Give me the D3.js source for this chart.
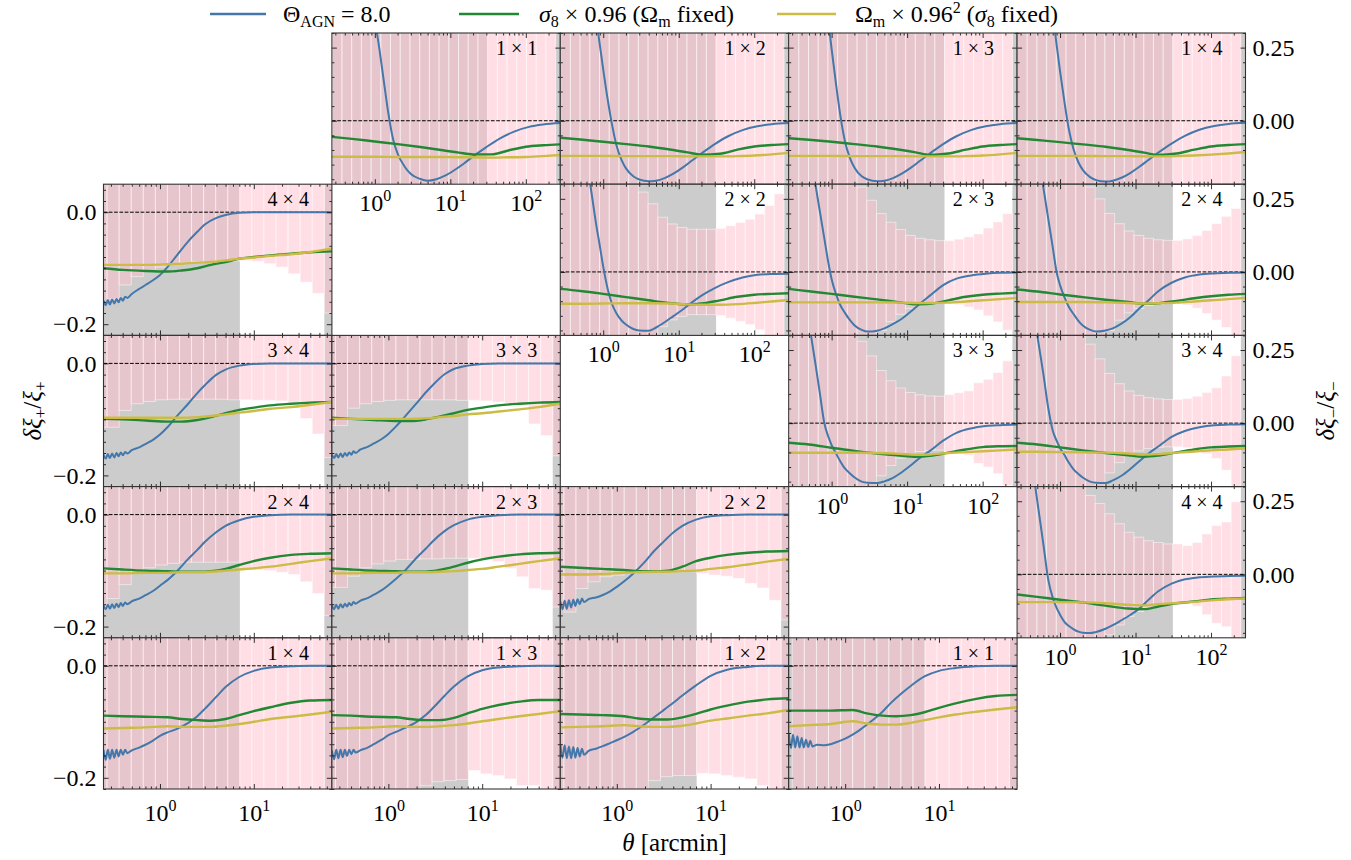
<!DOCTYPE html>
<html>
<head>
<meta charset="utf-8">
<script src="https://cdn.jsdelivr.net/npm/d3@7"></script>
<style>
body { margin: 0; background: #fff; }
text, tspan { font-family: "Liberation Serif", "DejaVu Serif", "Noto Serif", serif !important; }
</style>
</head>
<body>
<div id="chart"></div>
<script>

// ---- data ----

// angular bins of the covariance bars [arcmin]
var binEdges = [0.203, 0.273, 0.367, 0.494, 0.664, 0.893, 1.200, 1.614, 2.171, 2.919, 3.926, 5.280, 7.100,
    9.548, 12.84, 17.27, 23.22, 31.23, 42.00, 56.48, 75.96, 102.1, 137.4, 184.7, 248.4, 334.1];

// scale cuts (everything outside is greyed out)
var plusCuts = [7.1, 56.48];
var minusCuts = [31.23, 248.4];

var plusLabels = ['4 × 4', '3 × 4', '3 × 3', '2 × 4', '2 × 3', '2 × 2', '1 × 4', '1 × 3', '1 × 2', '1 × 1'];
var minusLabels = ['1 × 1', '1 × 2', '1 × 3', '1 × 4', '2 × 2', '2 × 3', '2 × 4', '3 × 3', '3 × 4', '4 × 4'];

// theta samples of the curves
var plusTheta = [0.25, 0.264, 0.278, 0.293, 0.309, 0.326, 0.344, 0.362, 0.382, 0.403, 0.425, 0.448, 0.5, 0.6, 0.7,
    0.85, 1.0, 1.2, 1.5, 2.0, 2.5, 3.0, 4.0, 5.0, 7.0, 10, 15, 25, 40, 68];
var plusSmoothTheta = [0.25, 0.4, 0.7, 1.2, 1.7, 2.5, 3.5, 5, 7, 10, 15, 25, 40, 68];
var minusTheta = [0.27, 0.4, 0.5, 0.6, 0.7, 0.8, 0.9, 1.0, 1.15, 1.3, 1.5, 1.75, 2.0, 2.5, 3.0, 4.0, 5.0, 6.5,
    8.5, 11, 15, 20, 30, 45, 70, 110, 170, 286];
var minusSmoothTheta = [0.27, 0.5, 1, 2, 4, 8, 13, 20, 35, 60, 100, 170, 286];

// delta xi+ / xi+ , Theta_AGN = 8.0
var plusAgn = [
    [-0.158, -0.166, -0.157, -0.165, -0.156, -0.163, -0.155, -0.161, -0.153, -0.158, -0.151, -0.153, -0.146, -0.137, -0.130, -0.121, -0.112, -0.098, -0.078, -0.052, -0.035, -0.022, -0.010, -0.005, -0.001, 0, 0, 0, 0, 0],
    [-0.163, -0.170, -0.162, -0.169, -0.161, -0.168, -0.160, -0.166, -0.159, -0.164, -0.158, -0.161, -0.155, -0.150, -0.144, -0.136, -0.127, -0.114, -0.095, -0.072, -0.053, -0.039, -0.020, -0.011, -0.004, -0.001, 0, 0, 0, 0],
    [-0.163, -0.169, -0.162, -0.168, -0.161, -0.167, -0.160, -0.165, -0.159, -0.163, -0.157, -0.160, -0.154, -0.149, -0.143, -0.135, -0.126, -0.113, -0.095, -0.071, -0.052, -0.038, -0.019, -0.010, -0.004, -0.001, 0, 0, 0, 0],
    [-0.162, -0.169, -0.161, -0.168, -0.160, -0.167, -0.159, -0.165, -0.158, -0.163, -0.157, -0.160, -0.155, -0.150, -0.144, -0.136, -0.127, -0.117, -0.102, -0.079, -0.063, -0.049, -0.031, -0.020, -0.010, -0.004, -0.001, 0, 0, 0],
    [-0.162, -0.169, -0.161, -0.168, -0.160, -0.166, -0.159, -0.164, -0.158, -0.162, -0.156, -0.159, -0.154, -0.149, -0.143, -0.135, -0.126, -0.115, -0.100, -0.077, -0.061, -0.047, -0.029, -0.019, -0.009, -0.004, -0.001, 0, 0, 0],
    [-0.155, -0.169, -0.154, -0.168, -0.153, -0.166, -0.152, -0.163, -0.151, -0.160, -0.150, -0.156, -0.151, -0.148, -0.144, -0.137, -0.129, -0.119, -0.105, -0.084, -0.065, -0.052, -0.032, -0.020, -0.009, -0.003, -0.001, 0, 0, 0],
    [-0.150, -0.168, -0.150, -0.166, -0.150, -0.164, -0.150, -0.162, -0.150, -0.159, -0.150, -0.156, -0.151, -0.146, -0.141, -0.133, -0.125, -0.119, -0.113, -0.102, -0.090, -0.077, -0.055, -0.038, -0.020, -0.009, -0.003, -0.001, 0, 0],
    [-0.151, -0.167, -0.150, -0.165, -0.150, -0.163, -0.150, -0.161, -0.150, -0.158, -0.150, -0.155, -0.151, -0.146, -0.140, -0.132, -0.124, -0.118, -0.111, -0.100, -0.088, -0.075, -0.053, -0.037, -0.019, -0.008, -0.003, -0.001, 0, 0],
    [-0.140, -0.164, -0.142, -0.165, -0.144, -0.165, -0.145, -0.164, -0.147, -0.162, -0.148, -0.159, -0.152, -0.148, -0.144, -0.138, -0.133, -0.127, -0.118, -0.104, -0.092, -0.082, -0.066, -0.053, -0.035, -0.018, -0.007, -0.002, 0, 0],
    [-0.120, -0.147, -0.123, -0.146, -0.126, -0.146, -0.129, -0.146, -0.132, -0.145, -0.134, -0.144, -0.141, -0.142, -0.140, -0.135, -0.130, -0.123, -0.112, -0.096, -0.082, -0.068, -0.049, -0.036, -0.019, -0.009, -0.004, -0.001, 0, 0]
];

// delta xi+ / xi+ , sigma8 x 0.96 (Omega_m fixed)
var plusSigma8 = [
    [-0.100, -0.103, -0.105, -0.106, -0.104, -0.100, -0.094, -0.089, -0.083, -0.080, -0.077, -0.074, -0.0715, -0.070],
    [-0.099, -0.100, -0.102, -0.104, -0.104, -0.101, -0.096, -0.089, -0.083, -0.079, -0.075, -0.072, -0.070, -0.069],
    [-0.097, -0.099, -0.101, -0.103, -0.103, -0.100, -0.095, -0.089, -0.083, -0.079, -0.075, -0.072, -0.070, -0.069],
    [-0.096, -0.098, -0.100, -0.101, -0.102, -0.102, -0.101, -0.097, -0.090, -0.083, -0.077, -0.072, -0.070, -0.069],
    [-0.096, -0.098, -0.100, -0.101, -0.102, -0.102, -0.099, -0.093, -0.086, -0.080, -0.075, -0.071, -0.069, -0.068],
    [-0.093, -0.095, -0.097, -0.099, -0.101, -0.101, -0.100, -0.093, -0.083, -0.077, -0.072, -0.068, -0.066, -0.065],
    [-0.089, -0.090, -0.091, -0.092, -0.095, -0.097, -0.098, -0.095, -0.088, -0.081, -0.074, -0.066, -0.062, -0.061],
    [-0.088, -0.089, -0.091, -0.092, -0.095, -0.097, -0.097, -0.093, -0.085, -0.077, -0.070, -0.064, -0.061, -0.061],
    [-0.086, -0.087, -0.088, -0.090, -0.094, -0.096, -0.096, -0.092, -0.086, -0.078, -0.071, -0.064, -0.060, -0.058],
    [-0.080, -0.080, -0.080, -0.079, -0.085, -0.089, -0.090, -0.088, -0.083, -0.075, -0.067, -0.059, -0.054, -0.052]
];

// delta xi+ / xi+ , Omega_m x 0.96^2 (sigma8 fixed)
var plusOmegaM = [
    [-0.094, -0.094, -0.094, -0.093, -0.092, -0.090, -0.089, -0.086, -0.083, -0.081, -0.078, -0.075, -0.071, -0.065],
    [-0.097, -0.097, -0.097, -0.097, -0.097, -0.096, -0.094, -0.091, -0.088, -0.085, -0.081, -0.078, -0.074, -0.069],
    [-0.099, -0.099, -0.099, -0.099, -0.099, -0.098, -0.096, -0.094, -0.091, -0.089, -0.086, -0.082, -0.078, -0.072],
    [-0.105, -0.105, -0.104, -0.104, -0.103, -0.103, -0.102, -0.100, -0.098, -0.096, -0.093, -0.088, -0.083, -0.078],
    [-0.105, -0.105, -0.104, -0.104, -0.103, -0.103, -0.102, -0.101, -0.099, -0.097, -0.093, -0.088, -0.083, -0.078],
    [-0.107, -0.107, -0.106, -0.104, -0.103, -0.102, -0.102, -0.101, -0.100, -0.097, -0.094, -0.089, -0.084, -0.079],
    [-0.112, -0.111, -0.110, -0.108, -0.109, -0.109, -0.109, -0.107, -0.104, -0.100, -0.095, -0.091, -0.087, -0.082],
    [-0.112, -0.111, -0.110, -0.108, -0.109, -0.109, -0.108, -0.106, -0.103, -0.099, -0.095, -0.090, -0.086, -0.081],
    [-0.110, -0.109, -0.108, -0.106, -0.108, -0.109, -0.109, -0.107, -0.103, -0.098, -0.094, -0.089, -0.085, -0.079],
    [-0.108, -0.106, -0.104, -0.099, -0.103, -0.105, -0.105, -0.102, -0.097, -0.092, -0.087, -0.082, -0.078, -0.074]
];

// 1 sigma of xi+ per bin (relative), null = no bar
var plusSigma = [
    [0.160, 0.155, 0.130, 0.115, 0.106, 0.098, 0.094, 0.090, 0.088, 0.088, 0.087, 0.087, 0.0865, 0.088, 0.092, 0.098, 0.110, 0.125, 0.145, 0.180],
    [0.114, 0.114, 0.084, 0.072, 0.068, 0.065, 0.064, 0.064, 0.064, 0.064, 0.064, 0.065, 0.065, 0.066, 0.066, 0.067, 0.070, 0.0985, 0.126, 0.168],
    [0.111, 0.111, 0.080, 0.072, 0.068, 0.066, 0.065, 0.065, 0.065, 0.065, 0.065, 0.066, 0.066, 0.067, 0.069, 0.071, 0.075, 0.108, 0.129, 0.165],
    [0.165, 0.150, 0.125, 0.105, 0.095, 0.090, 0.087, 0.085, 0.085, 0.085, 0.085, 0.085, 0.099, 0.099, 0.100, 0.103, 0.107, 0.120, 0.141, 0.180],
    [0.130, 0.130, 0.110, 0.095, 0.088, 0.083, 0.080, 0.080, 0.079, 0.079, 0.078, 0.078, 0.078, 0.081, 0.084, 0.096, 0.111, 0.132, 0.135, 0.165],
    [0.162, 0.174, 0.132, 0.120, 0.111, 0.108, 0.105, 0.103, 0.102, 0.102, 0.102, 0.102, 0.105, 0.108, 0.110, 0.114, 0.123, 0.131, 0.153, 0.188],
    [0.60, 0.55, 0.50, 0.45, 0.42, 0.40, 0.38, 0.36, 0.34, 0.32, 0.30, 0.29, 0.28, 0.27, 0.27, 0.27, 0.28, 0.29, 0.30, 0.32],
    [0.50, 0.45, 0.40, 0.36, 0.32, 0.29, 0.26, 0.235, 0.214, 0.207, 0.205, 0.203, 0.187, 0.193, 0.196, 0.202, 0.214, 0.214, 0.230, 0.260],
    [0.50, 0.45, 0.40, 0.36, 0.32, 0.29, 0.26, 0.23, 0.205, 0.198, 0.196, 0.196, 0.192, 0.193, 0.196, 0.199, 0.202, 0.214, 0.222, 0.250],
    [null, 0.60, 0.55, 0.50, 0.46, 0.43, 0.40, 0.38, 0.36, 0.34, 0.32, 0.30, 0.29, 0.28, 0.28, 0.28, 0.29, 0.30, 0.31, 0.33]
];

// delta xi- / xi- , Theta_AGN = 8.0
var minusAgn = [
    [1.4, 1.1, 0.9, 0.75, 0.62, 0.52, 0.43, 0.345, 0.245, 0.145, 0.03, -0.065, -0.112, -0.158, -0.182, -0.199, -0.205, -0.200, -0.188, -0.171, -0.147, -0.122, -0.090, -0.061, -0.037, -0.021, -0.013, -0.008],
    [1.5, 1.15, 0.9, 0.66, 0.49, 0.36, 0.26, 0.175, 0.07, -0.01, -0.085, -0.135, -0.163, -0.19, -0.201, -0.207, -0.205, -0.196, -0.181, -0.162, -0.136, -0.112, -0.080, -0.053, -0.032, -0.019, -0.012, -0.008],
    [1.6, 1.25, 1.0, 0.78, 0.6, 0.46, 0.345, 0.245, 0.12, 0.02, -0.07, -0.128, -0.16, -0.19, -0.201, -0.207, -0.205, -0.196, -0.181, -0.162, -0.136, -0.112, -0.080, -0.053, -0.032, -0.019, -0.012, -0.008],
    [1.5, 1.15, 0.9, 0.66, 0.5, 0.37, 0.26, 0.17, 0.06, -0.025, -0.095, -0.142, -0.168, -0.193, -0.203, -0.208, -0.205, -0.195, -0.179, -0.159, -0.133, -0.109, -0.078, -0.052, -0.031, -0.018, -0.011, -0.007],
    [1.1, 0.74, 0.54, 0.385, 0.27, 0.168, 0.09, 0.018, -0.06, -0.108, -0.142, -0.166, -0.180, -0.195, -0.200, -0.201, -0.190, -0.172, -0.151, -0.131, -0.104, -0.081, -0.055, -0.035, -0.019, -0.010, -0.007, -0.006],
    [0.95, 0.6, 0.43, 0.31, 0.205, 0.115, 0.035, -0.025, -0.078, -0.113, -0.140, -0.165, -0.182, -0.198, -0.204, -0.201, -0.193, -0.178, -0.160, -0.137, -0.107, -0.081, -0.045, -0.023, -0.012, -0.006, -0.003, -0.002],
    [0.92, 0.57, 0.41, 0.29, 0.18, 0.085, 0.0, -0.045, -0.088, -0.118, -0.143, -0.167, -0.183, -0.198, -0.204, -0.200, -0.193, -0.177, -0.155, -0.127, -0.096, -0.066, -0.037, -0.019, -0.009, -0.005, -0.003, -0.002],
    [0.82, 0.5, 0.345, 0.215, 0.1, 0.0, -0.045, -0.075, -0.105, -0.13, -0.155, -0.172, -0.185, -0.200, -0.204, -0.205, -0.199, -0.187, -0.168, -0.146, -0.117, -0.095, -0.060, -0.033, -0.018, -0.010, -0.007, -0.005],
    [0.78, 0.46, 0.30, 0.17, 0.05, -0.025, -0.06, -0.085, -0.11, -0.134, -0.157, -0.174, -0.186, -0.200, -0.204, -0.205, -0.196, -0.180, -0.157, -0.132, -0.103, -0.080, -0.047, -0.027, -0.014, -0.007, -0.005, -0.004],
    [0.75, 0.43, 0.25, 0.105, -0.02, -0.08, -0.115, -0.138, -0.163, -0.176, -0.187, -0.196, -0.200, -0.201, -0.197, -0.186, -0.174, -0.157, -0.139, -0.119, -0.086, -0.058, -0.032, -0.017, -0.010, -0.007, -0.006, -0.005]
];

var minusSigma8 = [
    [-0.055, -0.062, -0.071, -0.080, -0.090, -0.101, -0.109, -0.115, -0.115, -0.101, -0.089, -0.084, -0.081],
    [-0.058, -0.064, -0.072, -0.080, -0.088, -0.099, -0.108, -0.116, -0.113, -0.099, -0.088, -0.083, -0.080],
    [-0.060, -0.065, -0.072, -0.080, -0.088, -0.099, -0.108, -0.117, -0.112, -0.099, -0.088, -0.083, -0.080],
    [-0.060, -0.066, -0.073, -0.081, -0.089, -0.100, -0.109, -0.117, -0.112, -0.099, -0.088, -0.083, -0.080],
    [-0.058, -0.065, -0.075, -0.086, -0.097, -0.107, -0.111, -0.108, -0.097, -0.085, -0.078, -0.075, -0.073],
    [-0.058, -0.066, -0.075, -0.085, -0.094, -0.104, -0.111, -0.109, -0.097, -0.085, -0.078, -0.074, -0.071],
    [-0.060, -0.067, -0.077, -0.086, -0.095, -0.103, -0.109, -0.107, -0.099, -0.090, -0.083, -0.078, -0.075],
    [-0.067, -0.073, -0.084, -0.095, -0.104, -0.111, -0.115, -0.112, -0.101, -0.090, -0.082, -0.079, -0.078],
    [-0.067, -0.073, -0.083, -0.093, -0.102, -0.110, -0.115, -0.111, -0.100, -0.090, -0.083, -0.080, -0.078],
    [-0.069, -0.077, -0.087, -0.096, -0.107, -0.117, -0.119, -0.110, -0.099, -0.093, -0.086, -0.083, -0.081]
];

var minusOmegaM = [
    [-0.123, -0.123, -0.123, -0.124, -0.124, -0.124, -0.125, -0.125, -0.126, -0.125, -0.124, -0.121, -0.117],
    [-0.120, -0.120, -0.120, -0.121, -0.121, -0.121, -0.122, -0.122, -0.122, -0.121, -0.119, -0.115, -0.110],
    [-0.120, -0.120, -0.120, -0.121, -0.121, -0.121, -0.122, -0.122, -0.122, -0.121, -0.119, -0.115, -0.110],
    [-0.120, -0.120, -0.120, -0.120, -0.121, -0.121, -0.122, -0.122, -0.121, -0.119, -0.116, -0.112, -0.107],
    [-0.109, -0.109, -0.108, -0.107, -0.107, -0.108, -0.111, -0.112, -0.112, -0.110, -0.106, -0.101, -0.096],
    [-0.104, -0.104, -0.104, -0.104, -0.104, -0.105, -0.106, -0.106, -0.105, -0.101, -0.097, -0.093, -0.089],
    [-0.103, -0.103, -0.103, -0.103, -0.104, -0.106, -0.108, -0.107, -0.105, -0.101, -0.097, -0.093, -0.089],
    [-0.101, -0.101, -0.101, -0.101, -0.102, -0.105, -0.108, -0.107, -0.102, -0.099, -0.096, -0.093, -0.090],
    [-0.098, -0.098, -0.099, -0.100, -0.101, -0.104, -0.107, -0.106, -0.101, -0.097, -0.093, -0.090, -0.086],
    [-0.094, -0.095, -0.095, -0.096, -0.099, -0.104, -0.106, -0.102, -0.098, -0.094, -0.089, -0.085, -0.082]
];

var minusSigma = [
    [0.9, 0.85, 0.8, 0.75, 0.7, 0.65, 0.6, 0.56, 0.52, 0.48, 0.45, 0.42, 0.40, 0.38, 0.36, 0.34, 0.32, 0.31, 0.31, 0.32, 0.33, 0.35, 0.37, 0.40, null],
    [0.9, 0.85, 0.8, 0.75, 0.7, 0.65, 0.6, 0.56, 0.52, 0.48, 0.45, 0.42, 0.40, 0.38, 0.36, 0.34, 0.32, 0.31, 0.31, 0.32, 0.33, 0.35, 0.37, 0.40, null],
    [0.9, 0.85, 0.8, 0.75, 0.7, 0.65, 0.6, 0.56, 0.52, 0.48, 0.45, 0.42, 0.40, 0.38, 0.36, 0.34, 0.32, 0.31, 0.31, 0.32, 0.33, 0.35, 0.37, 0.40, null],
    [0.9, 0.85, 0.8, 0.75, 0.7, 0.65, 0.6, 0.56, 0.52, 0.48, 0.45, 0.42, 0.40, 0.38, 0.36, 0.34, 0.32, 0.31, 0.31, 0.32, 0.33, 0.35, 0.37, 0.40, null],
    [0.9, 0.8, 0.7, 0.6, 0.55, 0.5, 0.45, 0.4, 0.33, 0.273, 0.233, 0.187, 0.164, 0.152, 0.146, 0.146, 0.146, 0.149, 0.158, 0.169, 0.180, 0.198, 0.227, 0.267, null],
    [0.9, 0.8, 0.7, 0.6, 0.55, 0.5, 0.42, 0.36, 0.29, 0.245, 0.20, 0.17, 0.145, 0.125, 0.115, 0.110, 0.107, 0.107, 0.112, 0.120, 0.130, 0.150, 0.171, 0.199, null],
    [0.9, 0.8, 0.7, 0.6, 0.55, 0.5, 0.42, 0.36, 0.29, 0.25, 0.20, 0.165, 0.140, 0.125, 0.115, 0.110, 0.108, 0.108, 0.113, 0.124, 0.142, 0.165, 0.190, 0.217, null],
    [0.9, 0.8, 0.7, 0.6, 0.55, 0.5, 0.42, 0.35, 0.28, 0.23, 0.18, 0.145, 0.12, 0.105, 0.097, 0.093, 0.092, 0.098, 0.104, 0.110, 0.138, 0.150, 0.173, 0.213, null],
    [0.9, 0.8, 0.7, 0.6, 0.55, 0.5, 0.42, 0.35, 0.27, 0.22, 0.17, 0.135, 0.11, 0.095, 0.087, 0.083, 0.081, 0.081, 0.084, 0.092, 0.105, 0.121, 0.161, 0.230, null],
    [0.9, 0.8, 0.7, 0.6, 0.5, 0.42, 0.36, 0.31, 0.27, 0.242, 0.207, 0.173, 0.144, 0.127, 0.115, 0.109, 0.104, 0.104, 0.098, 0.109, 0.138, 0.167, 0.179, 0.248, null]
];

var plusYTicks = [0, -0.2];
var minusYTicks = [0.25, 0];

// ---- layout ----

var width = 1351;
var height = 860;
var gridLeft = 103.5;
var gridTop = 33;
var cellW = 228.4;
var cellH = 151.2;
var serif = '"Liberation Serif", "DejaVu Serif", "Noto Serif", serif';

// [row, col] of every panel
var plusCells = [[1, 0], [2, 0], [2, 1], [3, 0], [3, 1], [3, 2], [4, 0], [4, 1], [4, 2], [4, 3]];
var minusCells = [[0, 1], [0, 2], [0, 3], [0, 4], [1, 2], [1, 3], [1, 4], [2, 3], [2, 4], [3, 4]];

var colAgn = '#4477AA';
var colS8 = '#228833';
var colOm = '#CCBB44';

var xPlus = d3.scaleLog().domain([0.25, 68]).range([0, cellW]);
var xMinus = d3.scaleLog().domain([0.27, 286]).range([0, cellW]);
var yPlus = d3.scaleLinear().domain([-0.22, 0.05]).range([cellH, 0]);
var yMinus = d3.scaleLinear().domain([-0.217, 0.30]).range([cellH, 0]);

var svg = d3.select('#chart')
    .append('svg')
        .attr('width', width)
        .attr('height', height)
        .attr('font-family', serif);

svg.append('defs').append('clipPath')
    .attr('id', 'panelClip')
    .append('rect')
        .attr('width', cellW)
        .attr('height', cellH);

function drawPanel(isPlus, i) {
    var cellPos = isPlus ? plusCells[i] : minusCells[i];
    var row = cellPos[0], col = cellPos[1];
    var x = isPlus ? xPlus : xMinus;
    var y = isPlus ? yPlus : yMinus;
    var cuts = isPlus ? plusCuts : minusCuts;
    var sigma = isPlus ? plusSigma[i] : minusSigma[i];
    var dom = x.domain();

    var g = svg.append('g')
        .attr('transform', 'translate(' + (gridLeft + col * cellW) + ',' + (gridTop + row * cellH) + ')');
    var body = g.append('g').attr('clip-path', 'url(#panelClip)');

    // excluded scales
    body.selectAll('rect.cut')
        .data([[dom[0], cuts[0]], [cuts[1], dom[1]]])
        .enter().append('rect')
            .attr('class', 'cut')
            .attr('x', function(d) { return x(d[0]); })
            .attr('width', function(d) { return x(d[1]) - x(d[0]); })
            .attr('y', 0)
            .attr('height', cellH)
            .attr('fill', '#cccccc');

    // error bars per bin
    var bins = [];
    for (let k = 0; k < sigma.length; k++) {
        if (sigma[k] !== null) {
            bins.push({lo: binEdges[k], hi: binEdges[k + 1], s: sigma[k]});
        }
    }
    body.selectAll('rect.bar')
        .data(bins)
        .enter().append('rect')
            .attr('class', 'bar')
            .attr('x', function(d) { return x(d.lo); })
            .attr('width', function(d) { return x(d.hi) - x(d.lo); })
            .attr('y', function(d) { return y(d.s); })
            .attr('height', function(d) { return y(-d.s) - y(d.s); })
            .attr('fill', '#ffc0cb')
            .attr('fill-opacity', 0.5)
            .attr('stroke', '#ffffff')
            .attr('stroke-opacity', 0.5)
            .attr('stroke-width', 1);

    // zero line
    body.append('line')
        .attr('x1', 0).attr('x2', cellW)
        .attr('y1', y(0)).attr('y2', y(0))
        .attr('stroke', '#000')
        .attr('stroke-width', 1)
        .attr('stroke-dasharray', '3.7,1.6');

    var series = isPlus ? [
        [plusTheta, plusAgn[i], colAgn, 2],
        [plusSmoothTheta, plusSigma8[i], colS8, 2.4],
        [plusSmoothTheta, plusOmegaM[i], colOm, 2.4]
    ] : [
        [minusTheta, minusAgn[i], colAgn, 2],
        [minusSmoothTheta, minusSigma8[i], colS8, 2.4],
        [minusSmoothTheta, minusOmegaM[i], colOm, 2.4]
    ];

    var line = d3.line()
        .x(function(d) { return x(d[0]); })
        .y(function(d) { return y(d[1]); })
        .curve(d3.curveMonotoneX);

    series.forEach(function(s) {
        body.append('path')
            .datum(d3.zip(s[0], s[1]))
            .attr('fill', 'none')
            .attr('stroke', s[2])
            .attr('stroke-width', s[3])
            .attr('stroke-linejoin', 'round')
            .attr('d', line);
    });

    // ticks, pointing inwards on all four sides
    var allX = x.ticks();
    var majorX = allX.filter(function(d) { return Math.abs(Math.log10(d) - Math.round(Math.log10(d))) < 1e-6; });
    var minorX = allX.filter(function(d) { return majorX.indexOf(d) < 0; });
    var majorY = isPlus ? plusYTicks : minusYTicks;
    var minorY = y.ticks(10).filter(function(d) {
        return majorY.every(function(m) { return Math.abs(m - d) > 1e-6; });
    });

    function tickAxis(axis, vals, size, tx, ty) {
        var a = g.append('g')
            .attr('transform', 'translate(' + tx + ',' + ty + ')')
            .call(axis.tickValues(vals).tickSize(-size).tickFormat(''));
        a.select('.domain').remove();
        a.selectAll('line').attr('stroke', '#000').attr('stroke-width', 0.8);
    }
    tickAxis(d3.axisBottom(x), majorX, 5, 0, cellH);
    tickAxis(d3.axisBottom(x), minorX, 2.5, 0, cellH);
    tickAxis(d3.axisTop(x), majorX, 5, 0, 0);
    tickAxis(d3.axisTop(x), minorX, 2.5, 0, 0);
    tickAxis(d3.axisLeft(y), majorY, 5, 0, 0);
    tickAxis(d3.axisLeft(y), minorY, 2.5, 0, 0);
    tickAxis(d3.axisRight(y), majorY, 5, cellW, 0);
    tickAxis(d3.axisRight(y), minorY, 2.5, cellW, 0);

    // frame
    g.append('rect')
        .attr('width', cellW)
        .attr('height', cellH)
        .attr('fill', 'none')
        .attr('stroke', '#333')
        .attr('stroke-width', 1.1);

    // bin-pair label
    g.append('text')
        .attr('x', cellW - 23)
        .attr('y', 22)
        .attr('text-anchor', 'end')
        .attr('font-family', serif)
        .attr('font-size', 20)
        .text(isPlus ? plusLabels[i] : minusLabels[i]);

    // y tick labels
    if (isPlus && col === 0) {
        var ay = g.append('g')
            .call(d3.axisLeft(y).tickValues(plusYTicks).tickSize(0).tickPadding(7).tickFormat(d3.format('.1f')));
        ay.select('.domain').remove();
        ay.attr('font-family', serif).selectAll('text').attr('font-size', 24);
    }
    if (!isPlus && col === 4) {
        var ay2 = g.append('g')
            .attr('transform', 'translate(' + cellW + ',0)')
            .call(d3.axisRight(y).tickValues(minusYTicks).tickSize(0).tickPadding(7).tickFormat(d3.format('.2f')));
        ay2.select('.domain').remove();
        ay2.attr('font-family', serif).selectAll('text').attr('font-size', 24);
    }

    // x tick labels (only where nothing sits below)
    var showX = isPlus ? row === 4 : row === col - 1;
    if (showX) {
        var base = isPlus ? 32 : 27;
        var ax = g.append('g')
            .attr('transform', 'translate(0,' + cellH + ')')
            .call(d3.axisBottom(x).tickValues(majorX).tickSize(0).tickFormat(''));
        ax.select('.domain').remove();
        ax.attr('font-family', serif);
        ax.selectAll('.tick text')
            .attr('dy', null)
            .attr('y', base)
            .attr('font-size', 24)
            .each(function(d) {
                var t = d3.select(this);
                t.append('tspan').text('10');
                t.append('tspan')
                    .attr('dy', -10)
                    .attr('font-size', 16)
                    .text(Math.round(Math.log10(d)));
            });
    }
}

for (let i = 0; i < plusCells.length; i++) drawPanel(true, i);
for (let i = 0; i < minusCells.length; i++) drawPanel(false, i);

// ---- axis labels ----
var xl = svg.append('text')
    .attr('x', gridLeft + 2.5 * cellW)
    .attr('y', 851)
    .attr('text-anchor', 'middle')
    .attr('font-size', 25);
xl.append('tspan').attr('font-style', 'italic').text('θ');
xl.append('tspan').text(' [arcmin]');

function yLabel(xpos, sign) {
    var t = svg.append('text')
        .attr('transform', 'translate(' + xpos + ',' + (gridTop + 2.5 * cellH) + ') rotate(-90)')
        .attr('text-anchor', 'middle')
        .attr('dy', '0.35em')
        .attr('font-size', 25);
    t.append('tspan').attr('font-style', 'italic').text('δξ');
    t.append('tspan').attr('font-size', 17).attr('dy', 5).text(sign);
    t.append('tspan').attr('dy', -5).text('/');
    t.append('tspan').attr('font-style', 'italic').text('ξ');
    t.append('tspan').attr('font-size', 17).attr('dy', 5).text(sign);
}
yLabel(32, '+');
yLabel(1325, '−');

// ---- legend ----
var legendY = 14;
var legend = [
    {x1: 210, x2: 266, tx: 283, color: colAgn},
    {x1: 459, x2: 519, tx: 539, color: colS8},
    {x1: 777, x2: 836, tx: 855, color: colOm}
];
legend.forEach(function(l) {
    svg.append('line')
        .attr('x1', l.x1).attr('x2', l.x2)
        .attr('y1', legendY).attr('y2', legendY)
        .attr('stroke', l.color)
        .attr('stroke-width', 2.4);
});

function legendText(x) {
    return svg.append('text')
        .attr('x', x)
        .attr('y', legendY + 8)
        .attr('font-size', 24);
}
var t1 = legendText(legend[0].tx);
t1.append('tspan').text('Θ');
t1.append('tspan').attr('font-size', 16).attr('dy', 5).text('AGN');
t1.append('tspan').attr('dy', -5).text(' = 8.0');

var t2 = legendText(legend[1].tx);
t2.append('tspan').attr('font-style', 'italic').text('σ');
t2.append('tspan').attr('font-size', 16).attr('dy', 5).text('8');
t2.append('tspan').attr('dy', -5).text(' × 0.96 (Ω');
t2.append('tspan').attr('font-size', 16).attr('dy', 5).text('m');
t2.append('tspan').attr('dy', -5).text(' fixed)');

var t3 = legendText(legend[2].tx);
t3.append('tspan').text('Ω');
t3.append('tspan').attr('font-size', 16).attr('dy', 5).text('m');
t3.append('tspan').attr('dy', -5).text(' × 0.96');
t3.append('tspan').attr('font-size', 16).attr('dy', -9).text('2');
t3.append('tspan').attr('dy', 9).text(' (');
t3.append('tspan').attr('font-style', 'italic').text('σ');
t3.append('tspan').attr('font-size', 16).attr('dy', 5).text('8');
t3.append('tspan').attr('dy', -5).text(' fixed)');

</script>
</body>
</html>
